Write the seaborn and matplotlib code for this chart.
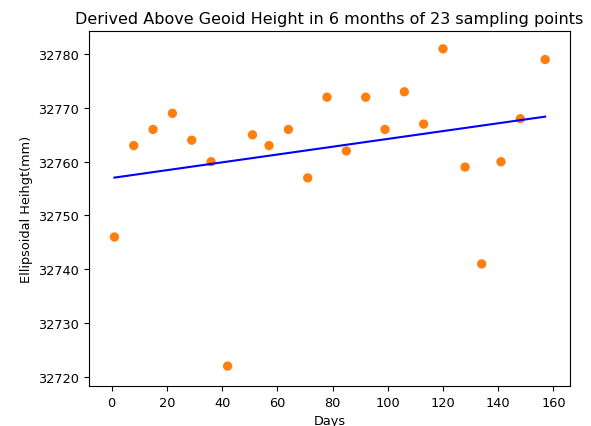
import numpy as np
import pandas as pd
import matplotlib
matplotlib.use("Agg")
import matplotlib.pyplot as plt
import seaborn as sns

# Sampling days and derived ellipsoidal heights (mm)
days = [1, 8, 15, 22, 29, 36, 42, 51, 57, 64, 71, 78, 85, 92, 99, 106, 113, 120, 128, 134, 141, 148, 157]
heights = [32746, 32763, 32766, 32769, 32764, 32760, 32722, 32765, 32763, 32766, 32757, 32772,
           32762, 32772, 32766, 32773, 32767, 32781, 32759, 32741, 32760, 32768, 32779]

df = pd.DataFrame({"Days": days, "Height": heights})

# Linear trend
slope, intercept = np.polyfit(df["Days"], df["Height"], 1)
df["Trend"] = slope * df["Days"] + intercept

fig, ax = plt.subplots(figsize=(5.91, 4.27), dpi=100)
sns.lineplot(data=df, x="Days", y="Trend", color="blue", ax=ax)
sns.scatterplot(data=df, x="Days", y="Height", color="C1", s=45, edgecolor="none", ax=ax)

ax.set_xlim(-8.2, 166)
ax.set_ylim(32718.3, 32784.3)
ax.tick_params(labelsize=9.3)

ax.set_title("Derived Above Geoid Height in 6 months of 23 sampling points", fontsize=11.55)
ax.set_xlabel("Days", fontsize=9.3)
ax.set_ylabel("Ellipsoidal Heihgt(mm)", fontsize=9.3)

plt.subplots_adjust(left=0.1506, right=0.9645, top=0.925, bottom=0.0937)
plt.savefig("out.png")
